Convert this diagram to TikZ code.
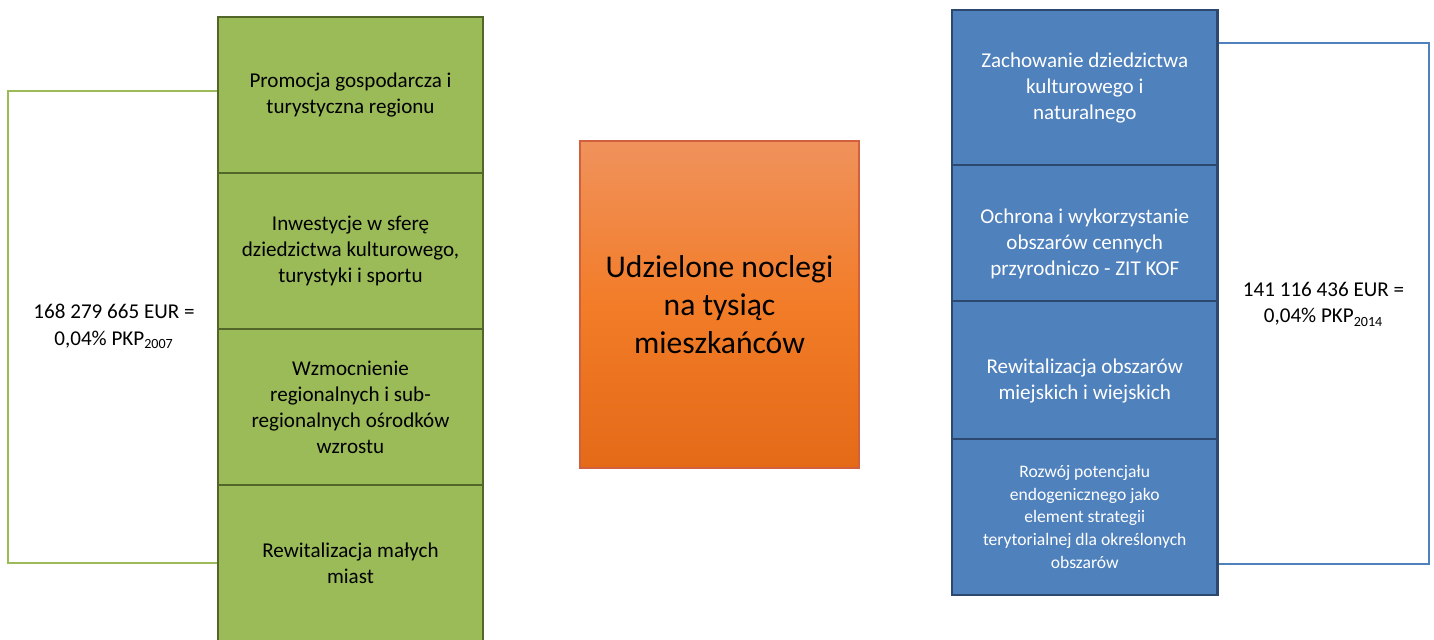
\documentclass[tikz,border=0pt]{standalone}
\usepackage{fontspec}
\setmainfont{Carlito}
\usepackage{tikz}
\usepackage{xcolor}

\definecolor{greenfill}{RGB}{155,187,89}
\definecolor{greenborder}{RGB}{82,102,42}
\definecolor{bluefill}{RGB}{79,129,189}
\definecolor{blueborder}{RGB}{44,72,110}
\definecolor{orangetop}{RGB}{240,146,92}
\definecolor{orangemid}{RGB}{242,124,40}
\definecolor{orangebot}{RGB}{228,106,24}
\definecolor{orangeborder}{RGB}{208,96,62}

\begin{document}
\begin{tikzpicture}[
            gbox/.style={draw=greenborder, line width=1.2pt, fill=greenfill, minimum width=5.3cm, minimum height=3.12cm, anchor=north, align=center, font=\fontsize{12}{14.75}\selectfont},
            bbox/.style={draw=blueborder, line width=1.3pt, fill=bluefill, text=white, minimum width=5.31cm, anchor=north, align=center, font=\fontsize{12}{14.75}\selectfont},
            sumlabel/.style={align=center, font=\fontsize{12}{15.3}\selectfont},
            bracket/.style={line width=1.1pt}
        ]
            \useasboundingbox (0,0) rectangle (28.68,-12.78);

            % Green boxes on left
            \node[gbox] (promocja) at (7.01,-0.32) {Promocja gospodarcza i\\turystyczna regionu};
            \node[gbox] (inwestycje) at (7.01,-3.44) {Inwestycje w sferę\\dziedzictwa kulturowego,\\turystyki i sportu};
            \node[gbox] (wzmocnienie) at (7.01,-6.56) {Wzmocnienie\\regionalnych i sub-\\regionalnych ośrodków\\wzrostu};
            \node[gbox] (rewmiast) at (7.01,-9.68) {Rewitalizacja małych\\miast};

            % Sum for 2007 on the left
            \node[sumlabel] (sum2007) at (2.28,-6.53) {168 279 665 EUR =\\0,04\% PKP\textsubscript{2007}};
            \draw[bracket, draw=greenfill] ([yshift=0.08cm]promocja.west) -- ++(-4.18,0) |- (rewmiast.west);

            % Indicator in middle
            \node[draw=orangeborder, line width=0.6pt, top color=orangetop, bottom color=orangebot, middle color=orangemid,
                  minimum width=5.58cm, minimum height=6.54cm, align=center, font=\fontsize{18}{21.8}\selectfont]
                  (noclegi) at (14.39,-6.09) {Udzielone noclegi\\na tysiąc\\mieszkańców};

            % Blue boxes on right
            \node[bbox, minimum height=3.10cm] (zachowanie) at (21.695,-0.18) {Zachowanie dziedzictwa\\kulturowego i\\naturalnego};
            \node[bbox, minimum height=3.16cm] (ochrona) at (21.695,-3.28) {Ochrona i wykorzystanie\\obszarów cennych\\przyrodniczo - ZIT KOF};
            \node[bbox, minimum height=3.20cm] (rewobszar) at (21.695,-6.00) {Rewitalizacja obszarów\\miejskich i wiejskich};
            \node[bbox, minimum height=3.13cm, font=\fontsize{10}{13}\selectfont] (rozwoj) at (21.695,-8.75) {Rozwój potencjału\\endogenicznego jako\\element strategii\\terytorialnej dla określonych\\obszarów};

            % Sum for 2014 on the right
            \node[sumlabel] (sum2014) at (26.47,-6.08) {141 116 436 EUR =\\0,04\% PKP\textsubscript{2014}};
            \draw[bracket, draw=bluefill] ([yshift=0.89cm]zachowanie.east) -- ++(4.21,0) |- ([yshift=-0.945cm]rozwoj.east);

        \end{tikzpicture}
\end{document}
